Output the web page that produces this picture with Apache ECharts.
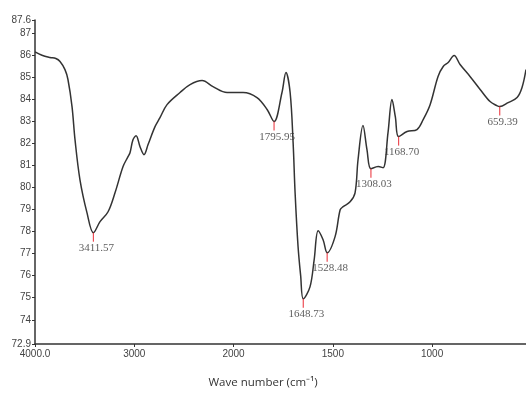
<!DOCTYPE html>
<html>
<head>
<meta charset="utf-8">
<script src="https://cdn.jsdelivr.net/npm/echarts@6/dist/echarts.min.js"></script>
<style>html,body{margin:0;padding:0;background:#fff}#c{width:526px;height:398px}</style>
</head>
<body>
<div id="c"></div>
<script>
// Wavenumber (cm-1) and transmittance (%)
const wavenumbers = [4000, 3930, 3849, 3790, 3748, 3698, 3668, 3627, 3597, 3547, 3476, 3411.57, 3345, 3264, 3194, 3113, 3063, 3043, 3013, 2982, 2942, 2902, 2861, 2791, 2741, 2670, 2539, 2438, 2317, 2207, 2065, 1952, 1882, 1831, 1795.95, 1756, 1736, 1715, 1700, 1690, 1675, 1662, 1648.73, 1615, 1594, 1574, 1549, 1528.48, 1489, 1463, 1448, 1413, 1388, 1373, 1348, 1328, 1308.03, 1272, 1247, 1222, 1202, 1185, 1168.70, 1126, 1076, 1045, 1010, 970, 944, 919, 889, 859, 809, 758, 708, 675, 659.39, 617, 572, 547, 527];
const transmittance = [86.15, 86.0, 85.90, 85.85, 85.72, 85.35, 84.90, 83.67, 82.17, 80.35, 78.85, 77.95, 78.45, 78.90, 79.76, 80.95, 81.40, 81.58, 82.17, 82.35, 81.85, 81.49, 81.95, 82.76, 83.17, 83.76, 84.31, 84.67, 84.85, 84.58, 84.31, 84.31, 84.08, 83.54, 82.99, 84.31, 85.22, 84.31, 82.04, 79.76, 77.31, 76.0, 74.95, 75.49, 76.72, 78.04, 77.63, 77.04, 77.76, 78.99, 79.13, 79.35, 79.76, 81.26, 82.81, 81.72, 80.85, 80.95, 80.90, 82.49, 83.99, 83.2, 82.31, 82.54, 82.63, 83.08, 83.76, 85.04, 85.49, 85.67, 85.99, 85.58, 85.04, 84.45, 83.90, 83.72, 83.67, 83.85, 84.08, 84.54, 85.35];

// Labelled absorption minima
const peakWavenumbers = [3411.57, 1795.95, 1648.73, 1528.48, 1308.03, 1168.70, 659.39];
const peakLabels = ['3411.57', '1795.95', '1648.73', '1528.48', '1308.03', '1168.70', '659.39'];

// Axis ticks
const xTickWavenumbers = [4000, 3000, 2000, 1500, 1000];
const xTickLabels = ['4000.0', '3000', '2000', '1500', '1000'];
const yTickValues = [72.9, 74, 75, 76, 77, 78, 79, 80, 81, 82, 83, 84, 85, 86, 87, 87.6];
const yTickLabels = ['72.9', '74', '75', '76', '77', '78', '79', '80', '81', '82', '83', '84', '85', '86', '87', '87.6'];
const xRange = [4000, 527];
const yRange = [72.9, 87.6];

// Instrument-style split scale: 4000-2000 compressed (1 unit per 1000), below 2000 expanded (1 unit per 500)
function toScale(wn) { return wn >= 2000 ? (4000 - wn) / 1000 : 2 + (2000 - wn) / 500; }

const curve = wavenumbers.map((w, i) => [toScale(w), transmittance[i]]);
const peaks = peakWavenumbers.map((w, i) => ({
  value: [toScale(w), transmittance[wavenumbers.indexOf(w)]],
  label: peakLabels[i]
}));
const xTicks = xTickWavenumbers.map(toScale);

const chart = echarts.init(document.getElementById('c'), null, {renderer: 'canvas'});
chart.setOption({
  animation: false,
  backgroundColor: '#fff',
  grid: {left: 35, right: 0, top: 20, bottom: 54, containLabel: false},
  xAxis: {
    type: 'value',
    min: toScale(xRange[0]), max: toScale(xRange[1]),
    name: 'Wave number (cm⁻¹)',
    nameLocation: 'middle', nameGap: 33,
    nameTextStyle: {fontFamily: 'Open Sans', fontSize: 11.5, color: '#333', padding: [0, 35, 0, 0]},
    axisLine: {show: true, onZero: false, lineStyle: {color: '#333', width: 1.5}},
    axisTick: {show: true, length: 3, customValues: xTicks, lineStyle: {color: '#333'}},
    axisLabel: {
      customValues: xTicks, margin: 5, fontSize: 10, color: '#444', fontFamily: 'Liberation Sans',
      formatter: v => { const i = xTicks.findIndex(t => Math.abs(t - v) < 1e-6); return i >= 0 ? xTickLabels[i] : ''; }
    },
    splitLine: {show: false}
  },
  yAxis: {
    type: 'value',
    min: yRange[0], max: yRange[1],
    axisLine: {show: true, onZero: false, lineStyle: {color: '#333', width: 1.5}},
    axisTick: {show: true, length: 3, customValues: yTickValues, lineStyle: {color: '#333'}},
    axisLabel: {
      customValues: yTickValues, margin: 4, fontSize: 10, color: '#444', fontFamily: 'Liberation Sans',
      formatter: v => { const i = yTickValues.findIndex(t => Math.abs(t - v) < 1e-6); return i >= 0 ? yTickLabels[i] : ''; }
    },
    splitLine: {show: false}
  },
  series: [
    {
      type: 'line', data: curve, showSymbol: false, smooth: 0.35,
      lineStyle: {color: '#333', width: 1.5}, z: 2
    },
    {
      type: 'scatter', data: peaks.map(p => ({value: p.value, name: p.label})),
      symbol: 'rect', symbolSize: [1.2, 9], symbolOffset: [0, 4.5],
      itemStyle: {color: '#e8202a'}, z: 3,
      label: {
        show: true, position: 'bottom', distance: 1, offset: [3, 0],
        formatter: p => p.name, fontFamily: 'Liberation Serif', fontSize: 11, color: '#333'
      }
    }
  ]
});
</script>
</body>
</html>
